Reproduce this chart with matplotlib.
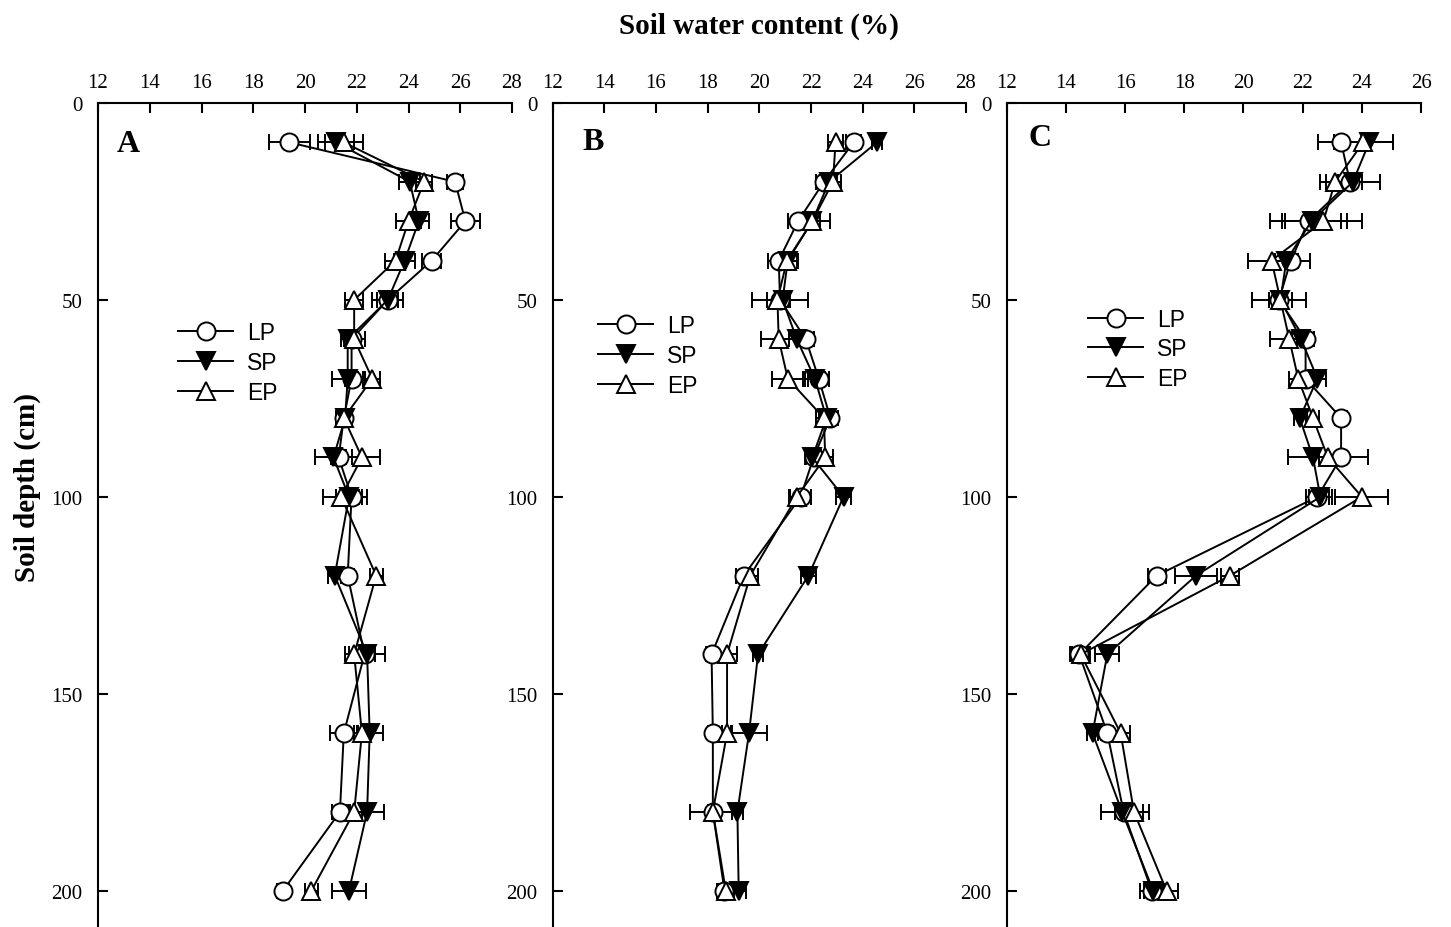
import matplotlib
matplotlib.use("Agg")
import matplotlib.pyplot as plt

plt.rcParams['font.family'] = ['Liberation Serif', 'DejaVu Serif']

depths = [10, 20, 30, 40, 50, 60, 70, 80, 90, 100, 120, 140, 160, 180, 200]
series_names = ["LP", "SP", "EP"]
panel_labels = ["A", "B", "C"]
x_ranges = [(12, 28), (12, 28), (12, 26)]

# Panel A
A_LP = [19.4, 25.8, 26.2, 24.9, 23.2, 21.8, 21.8, 21.5, 21.3, 21.8, 21.65, 22.3, 21.5, 21.35, 19.15]
A_LP_err = [0.78, 0.3, 0.55, 0.37, 0.4, 0.25, 0.25, 0.25, 0.3, 0.6, 0.25, 0.4, 0.55, 0.3, 0.25]
A_SP = [21.2, 24.05, 24.4, 23.85, 23.2, 21.65, 21.65, 21.55, 21.1, 21.7, 21.15, 22.4, 22.5, 22.4, 21.7]
A_SP_err = [0.7, 0.4, 0.4, 0.4, 0.6, 0.25, 0.6, 0.25, 0.7, 0.5, 0.25, 0.7, 0.5, 0.65, 0.67]
A_EP = [21.5, 24.6, 24.0, 23.5, 21.9, 21.9, 22.6, 21.5, 22.2, 21.4, 22.75, 21.9, 22.2, 21.9, 20.25]
A_EP_err = [0.73, 0.3, 0.5, 0.4, 0.35, 0.4, 0.3, 0.3, 0.7, 0.7, 0.25, 0.36, 0.3, 0.3, 0.25]

# Panel B
B_LP = [23.65, 22.5, 21.5, 20.75, 20.8, 21.8, 22.3, 22.75, 22.1, 21.6, 19.4, 18.15, 18.2, 18.2, 18.65]
B_LP_err = [0.3, 0.3, 0.4, 0.4, 1.1, 0.3, 0.4, 0.3, 0.3, 0.4, 0.3, 0.2, 0.2, 0.9, 0.3]
B_SP = [24.55, 22.7, 22.05, 21.1, 20.9, 21.45, 22.15, 22.6, 22.05, 23.26, 21.9, 19.95, 19.6, 19.15, 19.2]
B_SP_err = [0.2, 0.3, 0.3, 0.4, 0.3, 0.3, 0.4, 0.3, 0.3, 0.3, 0.3, 0.2, 0.7, 0.2, 0.3]
B_EP = [22.95, 22.85, 22.05, 21.07, 20.7, 20.75, 21.1, 22.5, 22.55, 21.45, 19.65, 18.75, 18.75, 18.2, 18.7]
B_EP_err = [0.3, 0.3, 0.7, 0.4, 0.4, 0.7, 0.6, 0.3, 0.3, 0.3, 0.3, 0.4, 0.2, 0.2, 0.3]

# Panel C
C_LP = [23.3, 23.6, 22.2, 21.6, 21.2, 22.1, 22.1, 23.3, 23.3, 22.5, 17.07, 14.45, 15.4, 15.95, 16.9]
C_LP_err = [0.77, 0.4, 1.3, 0.65, 0.9, 0.3, 0.3, 0.2, 0.9, 0.4, 0.3, 0.3, 0.2, 0.3, 0.4]
C_SP = [24.25, 23.7, 22.3, 21.45, 21.25, 21.95, 22.5, 21.9, 22.35, 22.6, 18.4, 15.4, 14.9, 15.9, 16.95]
C_SP_err = [0.8, 0.9, 1.0, 0.4, 0.4, 0.3, 0.3, 0.2, 0.85, 0.4, 0.7, 0.4, 0.2, 0.7, 0.3]
C_EP = [24.05, 23.1, 22.7, 20.95, 21.25, 21.55, 21.85, 22.35, 22.85, 24.0, 19.55, 14.5, 15.85, 16.3, 17.4]
C_EP_err = [1.0, 0.5, 1.3, 0.8, 0.4, 0.65, 0.3, 0.2, 0.3, 0.9, 0.3, 0.3, 0.3, 0.5, 0.4]

panels = [
    [(A_LP, A_LP_err), (A_SP, A_SP_err), (A_EP, A_EP_err)],
    [(B_LP, B_LP_err), (B_SP, B_SP_err), (B_EP, B_EP_err)],
    [(C_LP, C_LP_err), (C_SP, C_SP_err), (C_EP, C_EP_err)],
]

styles = {
    "LP": dict(marker="o", mfc="white", ms=13),
    "SP": dict(marker="v", mfc="black", ms=13),
    "EP": dict(marker="^", mfc="white", ms=13),
}

W, H = 1451, 928
fig = plt.figure(figsize=(W / 100, H / 100), dpi=100)

ax_left_px = [98, 552.7, 1006.7]
ax_width_px = [414, 413.3, 414.3]
top_px = 104
height_px = 827  # 0..210 cm
letter_px = [(117, 144), (582, 142.5), (1028, 138.7)]
legend_px = [(178, 363.3), (598.3, 356.7), (1088.3, 350)]

for i in range(3):
    left = ax_left_px[i] / W
    width = ax_width_px[i] / W
    bottom = 1 - (top_px + height_px) / H
    ax = fig.add_axes([left, bottom, width, height_px / H])
    handles = []
    for name, (vals, errs) in zip(series_names, panels[i]):
        st = styles[name]
        eb = ax.errorbar(vals, depths, xerr=errs, color="black", lw=1.4,
                         elinewidth=1.4, capsize=5.5, capthick=1.4,
                         marker=st["marker"], mfc=st["mfc"], mec="black",
                         mew=1.4, ms=st["ms"], label=name, zorder=3)
        handles.append(eb.lines[0])
    ax.set_xlim(*x_ranges[i])
    ax.set_ylim(210, 0)
    ax.set_xticks(range(x_ranges[i][0], x_ranges[i][1] + 1, 2))
    ax.set_yticks([0, 50, 100, 150, 200])
    ax.xaxis.tick_top()
    ax.spines["right"].set_visible(False)
    ax.spines["bottom"].set_visible(False)
    for s in ("top", "left"):
        ax.spines[s].set_linewidth(1.5)
    ax.tick_params(axis="x", direction="in", length=7, width=1.5,
                   labelsize=15, pad=8)
    ax.tick_params(axis="y", direction="in", length=7, width=1.5,
                   labelsize=15, pad=11)
    lx, ly = letter_px[i]
    ax.text((lx - ax_left_px[i]) / ax_width_px[i], 1 - (ly - top_px) / height_px,
            panel_labels[i], transform=ax.transAxes, ha="left", va="center",
            fontsize=23, fontweight="bold")
    gx, gy = legend_px[i]
    ax.legend(handles, series_names, loc="center left",
              bbox_to_anchor=((gx - ax_left_px[i]) / ax_width_px[i],
                              1 - (gy - top_px) / height_px),
              frameon=False, borderpad=0, borderaxespad=0,
              handlelength=2.4, handletextpad=0.6, labelspacing=0.3,
              prop={"family": "Liberation Sans", "size": 16.5})

fig.text(759 / W, 1 - 26 / H, "Soil water content (%)", ha="center", va="center",
         fontsize=21, fontweight="bold")
fig.text(27 / W, 1 - 488 / H, "Soil depth (cm)", ha="center", va="center",
         rotation=90, fontsize=21, fontweight="bold")

fig.savefig("out.png", dpi=100)
